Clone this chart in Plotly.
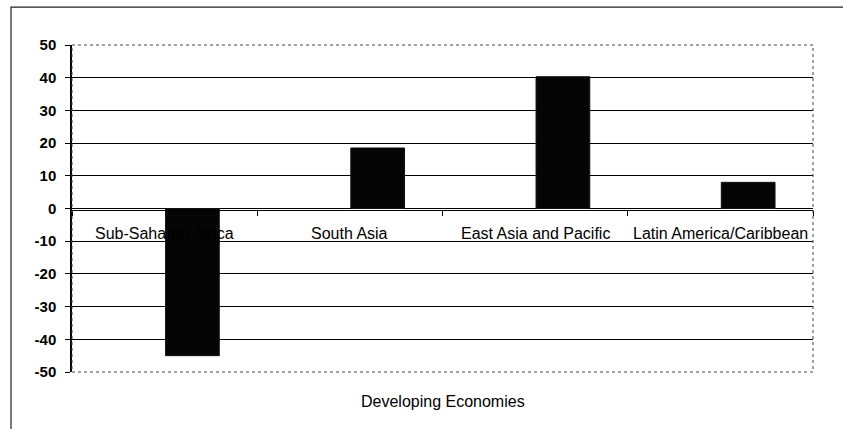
import plotly.graph_objects as go

# Regional values (percent change), developing economies
regions = ["Sub-Saharan Africa", "South Asia", "East Asia and Pacific", "Latin America/Caribbean"]
values = [-45, 18.5, 40.3, 8]
y_ticks = [50, 40, 30, 20, 10, 0, -10, -20, -30, -40, -50]
y_tick_text = ["50", "40", "30", "20", "10", "0", "-10", "-20", "-30", "-40", "-50"]
x_title = "Developing Economies"

FONT = "Liberation Sans, Arial, sans-serif"

fig = go.Figure()
fig.add_trace(go.Bar(
    x=regions,
    y=values,
    width=0.29,
    offset=0.005,
    marker=dict(color="#050505", line=dict(color="#111111", width=1)),
    showlegend=False,
))

# Category labels sit just below the zero line
for name in regions:
    fig.add_annotation(
        x=name, y=0, xref="x", yref="y",
        text=name, showarrow=False,
        yanchor="middle", yshift=-25,
        font=dict(family=FONT, size=16, color="black"),
    )

fig.add_annotation(
    x=0.5, y=-0.09, xref="paper", yref="paper",
    text=x_title, showarrow=False, yanchor="middle",
    font=dict(family=FONT, size=16, color="black"),
)

fig.update_layout(
    width=843, height=429,
    margin=dict(l=72, r=30, t=45, b=57),
    paper_bgcolor="white",
    plot_bgcolor="white",
    font=dict(family=FONT, size=16, color="black"),
    shapes=[
        # outer chart frame
        dict(type="rect", xref="paper", yref="paper",
             x0=-0.0823, x1=1.4, y0=-0.6, y1=1.116,
             line=dict(color="#222222", width=1.2), layer="below"),
        # plot area border
        dict(type="rect", xref="paper", yref="paper",
             x0=0, x1=1, y0=0, y1=1,
             line=dict(color="#444444", width=1, dash="dot"), layer="above"),
    ],
)

fig.update_xaxes(
    type="category",
    range=[-0.5, 3.5],
    showticklabels=False,
    showgrid=False,
    tickson="boundaries",
    ticks="outside", ticklen=5, tickcolor="black",
    showline=True, linecolor="black", linewidth=1,
    anchor="free", position=0.4954,
    zeroline=False,
)

fig.update_yaxes(
    range=[-50, 50],
    tickvals=y_ticks,
    ticktext=y_tick_text,
    ticks="outside", ticklen=5, tickcolor="black",
    ticklabelstandoff=6,
    showline=True, linecolor="black", linewidth=1.5,
    showgrid=True, gridcolor="black", gridwidth=1,
    zeroline=False,
    tickfont=dict(family=FONT, size=15, color="black", weight="bold"),
)

fig.write_html("out.html")
